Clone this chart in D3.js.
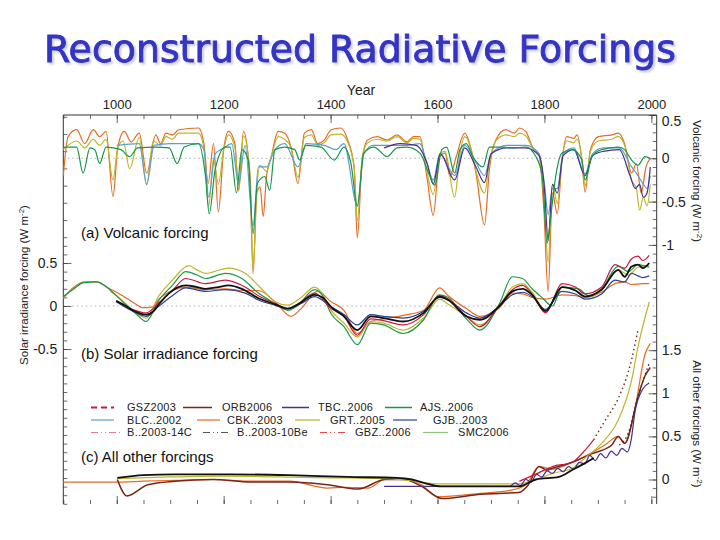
<!DOCTYPE html>
<html><head><meta charset="utf-8">
<script src="https://cdn.jsdelivr.net/npm/d3@7"></script>
<style>body{margin:0;background:#fff}svg{display:block}</style>
</head><body><svg id="c" width="720" height="540"></svg>
<script>
// ---------------- DATA ----------------
const titleText = "Reconstructed Radiative Forcings";
const topYears = [1000, 1200, 1400, 1600, 1800, 2000];
const minorYears = d3.range(900, 2011, 50);
const volcLabelVals = [0.5, 0, -0.5, -1];
const volcLabels = ["0.5", "0", "-0.5", "-1"];
const solarLabelVals = [0.5, 0, -0.5];
const solarLabels = ["0.5", "0", "-0.5"];
const otherLabelVals = [0, 0.5, 1, 1.5];
const otherLabels = ["0", "0.5", "1", "1.5"];
const legendNames = ["GSZ2003","ORB2006","TBC..2006","AJS..2006",
                     "BLC..2002","CBK..2003","GRT..2005","GJB..2003",
                     "B..2003-14C","B..2003-10Be","GBZ..2006","SMC2006"];

// (a) Volcanic forcing [year, W m-2]
const volcCBK = [[900,-0.2],[909,0.25],[925,0.33],[940,0.17],[956,0.33],[968,0.25],[980,0.31],[993,-0.44],[1002,0.13],[1014,0.31],[1027,0.19],[1042,0.29],[1056,-0.17],[1073,0.27],[1082,0.17],[1092,0.29],[1104,0.27],[1116,0.33],[1153,0.35],[1163,0.17],[1171,-0.29],[1181,0.17],[1190,-0.62],[1200,0.1],[1209,0.31],[1221,0.17],[1228,-0.37],[1237,0.31],[1249,-0.21],[1255,-1.33],[1262,-0.4],[1268,-0.33],[1274,-0.67],[1280,-0.21],[1289,0.02],[1302,0.31],[1314,0.29],[1326,0.13],[1339,-0.29],[1351,0.29],[1364,0.33],[1376,0.17],[1388,0.21],[1401,0.33],[1419,0.35],[1431,0.23],[1444,-0.1],[1450,-0.92],[1459,-0.02],[1469,0.21],[1487,0.25],[1506,0.21],[1524,0.27],[1543,0.19],[1555,0.25],[1567,0.25],[1580,-0.21],[1592,-0.66],[1604,0.02],[1614,0.06],[1623,-0.21],[1635,0.02],[1651,0.29],[1663,0.1],[1672,-0.17],[1688,-0.77],[1697,-0.13],[1709,0.21],[1728,0.33],[1744,0.29],[1753,0.35],[1765,0.31],[1778,0.13],[1790,0.04],[1799,-0.6],[1807,-1.54],[1815,-0.4],[1824,-0.64],[1833,-0.02],[1842,0.25],[1855,0.23],[1861,0.27],[1870,-0.02],[1876,-0.39],[1886,0.1],[1901,0.25],[1926,0.27],[1938,0.29],[1950,0.17],[1963,-0.17],[1972,-0.06],[1981,-0.4],[1990,-0.1],[1998,0.0]];
const volcGRT = [[900,0.1],[925,0.2],[940,0.12],[956,0.22],[968,0.15],[980,0.22],[993,-0.25],[1002,0.12],[1012,0.2],[1024,-0.12],[1042,0.24],[1056,-0.31],[1068,0.2],[1082,0.15],[1092,0.25],[1104,0.22],[1116,0.29],[1153,0.29],[1163,0.12],[1172,-0.55],[1181,0.0],[1190,-0.3],[1200,0.1],[1209,0.27],[1221,0.12],[1228,-0.38],[1237,0.26],[1249,-0.15],[1255,-1.28],[1262,-0.35],[1268,-0.08],[1280,-0.15],[1289,0.02],[1302,0.25],[1314,0.22],[1326,0.12],[1339,-0.22],[1351,0.24],[1364,0.27],[1376,0.15],[1388,0.18],[1401,0.27],[1419,0.28],[1431,0.2],[1444,-0.1],[1450,-0.72],[1459,0.0],[1469,0.18],[1487,0.22],[1506,0.2],[1524,0.25],[1543,0.18],[1555,0.23],[1567,0.22],[1580,-0.15],[1592,-0.42],[1604,0.05],[1614,0.08],[1632,-0.45],[1642,0.05],[1651,0.25],[1663,0.1],[1672,-0.15],[1688,-0.4],[1697,-0.05],[1709,0.2],[1728,0.27],[1744,0.25],[1753,0.29],[1765,0.26],[1778,0.12],[1790,0.05],[1799,-0.45],[1807,-1.2],[1815,-0.3],[1824,-0.52],[1833,0.0],[1842,0.2],[1855,0.18],[1861,0.22],[1870,0.0],[1876,-0.32],[1886,0.08],[1901,0.2],[1926,0.22],[1938,0.25],[1950,0.15],[1963,-0.25],[1972,-0.35],[1978,-0.6],[1985,-0.45],[1992,-0.55],[1998,-0.3]];
const volcBLC = [[1000,0.15],[1042,0.17],[1056,-0.3],[1070,0.15],[1100,0.17],[1153,0.17],[1163,0.1],[1172,-0.45],[1184,0.05],[1200,0.12],[1215,0.17],[1228,-0.3],[1240,0.15],[1255,-0.78],[1265,-0.1],[1280,-0.1],[1296,0.1],[1314,0.17],[1339,-0.1],[1354,0.17],[1388,0.15],[1410,0.1],[1425,0.17],[1450,-0.55],[1462,0.05],[1480,0.15],[1506,0.15],[1543,0.15],[1567,0.17],[1580,-0.05],[1592,-0.25],[1605,0.05],[1632,-0.2],[1651,0.15],[1672,-0.05],[1688,-0.2],[1700,0.05],[1730,0.15],[1765,0.15],[1790,0.05],[1800,-0.3],[1807,-0.65],[1815,-0.35],[1824,-0.35],[1835,0.05],[1855,0.12],[1876,-0.18],[1890,0.05],[1910,0.12],[1940,0.12],[1963,-0.1],[1975,-0.2],[1985,-0.3],[1992,-0.35],[1998,-0.2]];
const volcTBC = [[1500,0.12],[1530,0.17],[1560,0.15],[1580,-0.05],[1592,-0.3],[1605,0.05],[1632,-0.25],[1651,0.12],[1672,-0.1],[1688,-0.28],[1700,0.05],[1730,0.12],[1765,0.12],[1790,0.03],[1800,-0.35],[1807,-0.95],[1815,-0.3],[1824,-0.4],[1835,0.03],[1855,0.1],[1876,-0.2],[1890,0.03],[1910,0.08],[1940,0.1],[1960,-0.2],[1970,-0.35],[1978,-0.3],[1985,-0.45],[1992,-0.4],[1998,-0.1]];
const volcAJS = [[900,0.13],[925,0.13],[937,-0.17],[950,0.12],[959,0.1],[968,-0.06],[980,0.13],[1008,0.1],[1024,0.02],[1039,0.12],[1073,0.13],[1098,0.12],[1113,-0.06],[1126,0.13],[1153,0.17],[1166,-0.21],[1173,-0.64],[1184,-0.13],[1203,0.13],[1212,0.13],[1224,-0.4],[1234,0.1],[1246,-0.02],[1255,-0.87],[1263,-0.29],[1277,-0.21],[1286,-0.37],[1296,0.1],[1314,0.13],[1333,0.1],[1342,-0.02],[1354,0.15],[1382,0.13],[1407,-0.02],[1425,0.13],[1438,-0.06],[1450,-0.55],[1462,0.06],[1481,0.13],[1506,0.02],[1524,0.12],[1543,0.13],[1567,0.06],[1586,-0.21],[1595,-0.31],[1608,0.1],[1617,0.13],[1632,-0.17],[1642,0.1],[1654,0.17],[1666,0.02],[1685,-0.1],[1697,0.13],[1722,0.13],[1740,0.12],[1765,0.13],[1784,0.02],[1796,-0.21],[1805,-0.98],[1811,-0.71],[1821,-0.21],[1833,0.06],[1852,0.1],[1870,-0.02],[1876,-0.25],[1889,0.02],[1907,0.1],[1938,0.13],[1950,0.1],[1963,-0.02],[1975,-0.08],[1988,0.02],[1998,0.0]];

// (b) Solar irradiance forcing [year, W m-2]
const solCBK = [[900,0.09],[920,0.22],[940,0.28],[962,0.28],[987,0.2],[1011,0.12],[1036,0.02],[1048,-0.02],[1067,-0.01],[1079,0.08],[1104,0.18],[1129,0.22],[1166,0.19],[1203,0.2],[1234,0.18],[1265,0.18],[1296,0.05],[1326,-0.12],[1345,-0.03],[1376,0.17],[1401,0.05],[1425,-0.05],[1450,-0.32],[1475,-0.18],[1499,-0.15],[1536,-0.11],[1574,-0.05],[1604,0.21],[1620,0.12],[1654,-0.03],[1679,-0.12],[1716,-0.02],[1740,0.15],[1759,0.14],[1777,0.1],[1802,0.08],[1833,0.13],[1858,0.12],[1876,0.1],[1907,0.16],[1932,0.26],[1950,0.28],[1963,0.25],[1984,0.26],[1996,0.26]];
const solGRT = [[987,0.18],[1011,0.06],[1036,-0.08],[1055,-0.14],[1079,0.12],[1104,0.3],[1135,0.47],[1150,0.42],[1166,0.38],[1209,0.44],[1240,0.38],[1271,0.2],[1296,0.05],[1320,0.01],[1345,0.1],[1370,0.22],[1385,0.14],[1401,-0.05],[1425,-0.2],[1450,-0.36],[1475,-0.18],[1499,-0.2],[1536,-0.28],[1574,-0.14],[1604,0.08],[1620,0.02],[1654,-0.12],[1679,-0.22],[1716,0.0],[1740,0.22],[1759,0.26],[1777,0.16],[1802,-0.05],[1833,0.22],[1858,0.18],[1876,0.1],[1907,0.18],[1938,0.42],[1957,0.36],[1975,0.45],[1996,0.47]];
const solAJS = [[900,0.11],[920,0.2],[937,0.27],[962,0.28],[987,0.19],[1011,0.05],[1036,-0.09],[1055,-0.18],[1079,0.07],[1104,0.24],[1129,0.4],[1150,0.36],[1166,0.32],[1203,0.38],[1234,0.32],[1265,0.15],[1296,0.03],[1320,-0.05],[1339,0.01],[1370,0.19],[1385,0.12],[1401,-0.09],[1425,-0.24],[1450,-0.45],[1475,-0.2],[1499,-0.22],[1536,-0.32],[1574,-0.16],[1604,0.13],[1620,0.1],[1654,-0.15],[1679,-0.28],[1716,0.03],[1740,0.34],[1759,0.32],[1777,0.2],[1795,0.1],[1815,0.0],[1833,0.22],[1864,0.2],[1882,0.12],[1907,0.2],[1938,0.46],[1957,0.4],[1975,0.48],[1996,0.45]];
const solGJB = [[999,0.05],[1030,-0.06],[1055,-0.12],[1079,0.0],[1104,0.12],[1129,0.21],[1166,0.17],[1203,0.19],[1240,0.15],[1265,0.07],[1296,0.01],[1320,-0.03],[1345,0.03],[1370,0.11],[1401,-0.01],[1425,-0.1],[1450,-0.22],[1475,-0.1],[1499,-0.12],[1536,-0.14],[1574,-0.06],[1604,0.1],[1620,0.07],[1654,-0.08],[1679,-0.14],[1716,0.0],[1740,0.13],[1759,0.16],[1777,0.11],[1802,-0.04],[1833,0.17],[1858,0.14],[1876,0.08],[1907,0.14],[1932,0.3],[1950,0.28],[1963,0.38],[1975,0.35],[1984,0.33],[1996,0.35]];
const solGSZ = [[999,0.06],[1030,-0.04],[1055,-0.08],[1079,0.04],[1104,0.18],[1129,0.32],[1166,0.26],[1203,0.3],[1240,0.22],[1265,0.12],[1296,0.03],[1320,-0.03],[1345,0.05],[1370,0.15],[1401,-0.03],[1425,-0.12],[1450,-0.34],[1475,-0.15],[1499,-0.17],[1536,-0.22],[1574,-0.1],[1604,0.12],[1620,0.08],[1654,-0.12],[1679,-0.24],[1716,0.01],[1740,0.19],[1759,0.24],[1777,0.14],[1802,-0.08],[1833,0.26],[1858,0.22],[1876,0.14],[1907,0.22],[1932,0.48],[1950,0.44],[1963,0.55],[1975,0.58],[1984,0.53],[1996,0.59]];
const solB10 = [[999,0.06],[1011,0.02],[1030,-0.05],[1055,-0.1],[1067,-0.07],[1079,0.02],[1098,0.15],[1129,0.24],[1150,0.22],[1166,0.2],[1190,0.22],[1209,0.24],[1234,0.2],[1265,0.09],[1296,0.02],[1320,-0.03],[1339,0.02],[1370,0.13],[1385,0.1],[1401,-0.01],[1425,-0.12],[1450,-0.28],[1475,-0.12],[1499,-0.14],[1536,-0.18],[1574,-0.08],[1604,0.11],[1620,0.07],[1654,-0.12],[1679,-0.16],[1716,0.0],[1740,0.17],[1759,0.2],[1777,0.13],[1802,-0.06],[1833,0.22],[1858,0.18],[1876,0.11],[1907,0.19],[1938,0.42],[1950,0.34],[1963,0.46],[1975,0.48],[1984,0.44],[1996,0.5]];

// (c) All other forcings [year, W m-2]
const othCBK = [[900,-0.03],[1001,-0.03],[1050,-0.02],[1108,-0.01],[1180,0.0],[1252,-0.02],[1323,-0.02],[1394,-0.1],[1430,-0.09],[1470,-0.1],[1502,0.0],[1538,0.0],[1570,-0.06],[1600,-0.2],[1681,-0.16],[1740,-0.12],[1765,-0.06],[1790,0.15],[1815,0.12],[1845,0.18],[1876,0.27],[1913,0.4],[1938,0.5],[1950,0.42],[1969,0.81],[1988,1.45],[1998,1.58]];
const othORB = [[1001,0.0],[1019,-0.19],[1058,-0.06],[1108,-0.02],[1180,0.0],[1252,-0.03],[1323,-0.03],[1394,-0.06],[1452,-0.11],[1502,0.0],[1538,0.0],[1570,-0.08],[1609,-0.22],[1681,-0.17],[1752,-0.15],[1770,-0.06],[1790,0.15],[1805,0.11],[1815,0.13],[1852,0.2],[1889,0.3],[1926,0.4],[1938,0.5],[1950,0.42],[1975,0.96],[1988,1.2],[1998,1.3]];
const othGRT = [[1001,0.01],[1100,0.03],[1200,0.04],[1300,0.03],[1400,0.02],[1500,0.01],[1560,-0.02],[1598,-0.05],[1753,-0.05],[1784,0.0],[1815,0.07],[1852,0.13],[1876,0.25],[1907,0.42],[1938,0.69],[1963,1.15],[1975,1.54],[1996,2.06]];
const othTBC = [[1500,-0.08],[1735,-0.08],[1745,-0.04],[1755,-0.07],[1765,0.0],[1775,-0.03],[1785,0.06],[1795,0.03],[1805,0.1],[1815,0.07],[1825,0.13],[1835,0.09],[1845,0.15],[1855,0.12],[1865,0.2],[1875,0.18],[1885,0.28],[1895,0.22],[1905,0.3],[1915,0.25],[1925,0.33],[1935,0.28],[1945,0.36],[1955,0.32],[1962,0.45],[1969,0.77],[1984,1.05],[1996,1.12]];
const othB10 = [[1001,0.02],[1050,0.05],[1108,0.06],[1216,0.06],[1323,0.05],[1431,0.03],[1524,0.02],[1552,0.0],[1581,-0.05],[1605,-0.08],[1700,-0.08],[1753,-0.08],[1784,0.0],[1827,0.03],[1852,0.11],[1876,0.19],[1892,0.25]];
const othGSZ = [[1753,-0.02],[1790,0.08],[1815,0.15],[1852,0.2],[1876,0.34],[1892,0.46]];
const othGSZdot = [[1892,0.46],[1913,0.68],[1938,0.94],[1963,1.39],[1975,1.74]];
const othGBZdot = [[1940,0.4],[1957,0.54],[1975,0.96],[1996,1.35]];

// ---------------- LAYOUT ----------------
const svg = d3.select("#c");
const FONT = "'Liberation Sans', Arial, Helvetica, sans-serif";
const L = 63.3, R = 656.7, T = 115, B = 504;
const x = d3.scaleLinear().domain([900, 2010]).range([L, R]);
const yV = d3.scaleLinear().domain([0, 0.5]).range([158.3, 115]);
const yS = d3.scaleLinear().domain([0, 0.5]).range([306, 263]);
const yO = d3.scaleLinear().domain([0, 1]).range([479.5, 393.3]);
const C = {orange:"#e46c24", green:"#17974a", olive:"#bdb52a", blue:"#5c9fcf", navy:"#2a3f8f",
           purple:"#4b2d8f", black:"#111111", red:"#c81a3c", maroon:"#7b2418", pink:"#d97aa0",
           gray:"#555555", gbz:"#e6484f", lgreen:"#8dc67a"};

// Title with a soft drop shadow
const defs = svg.append("defs");
const f = defs.append("filter").attr("id","sh").attr("x","-5%").attr("y","-20%").attr("width","110%").attr("height","150%");
f.append("feDropShadow").attr("dx",2).attr("dy",2).attr("stdDeviation",1)
  .attr("flood-color","#9090a8").attr("flood-opacity",0.45);
svg.append("text").attr("x", 360).attr("y", 62).attr("text-anchor","middle")
  .attr("font-family","'DejaVu Sans', sans-serif").attr("font-size",37.5)
  .attr("textLength",632).attr("lengthAdjust","spacingAndGlyphs")
  .attr("fill","#3434c4").attr("stroke","#3434c4").attr("stroke-width",0.9)
  .attr("filter","url(#sh)").text(titleText);

// zero lines
[yV(0), yS(0)].forEach(yy=>{
  svg.append("line").attr("x1",L).attr("x2",R).attr("y1",yy).attr("y2",yy)
    .attr("stroke","#9a9a9a").attr("stroke-width",0.8).attr("stroke-dasharray","1.5,3");
});

function styleAxis(g, size){
  g.select(".domain").remove();
  g.selectAll("line").attr("stroke","#444").attr("stroke-width",0.8);
  g.selectAll("text").attr("font-family",FONT).attr("font-size",size).attr("fill","#222");
}
// top axis
svg.append("g").attr("transform",`translate(0,${T})`)
  .call(d3.axisTop(x).tickValues(minorYears).tickSize(-4).tickFormat(""))
  .call(g=>styleAxis(g,13));
svg.append("g").attr("transform",`translate(0,${T})`)
  .call(d3.axisTop(x).tickValues(topYears).tickSize(-8).tickPadding(6).tickFormat(d3.format("d")))
  .call(g=>styleAxis(g,13));
svg.append("text").attr("x",361).attr("y",95).attr("text-anchor","middle")
  .attr("font-family",FONT).attr("font-size",14).attr("fill","#222").text("Year");
// bottom axis (ticks only)
svg.append("g").attr("transform",`translate(0,${B})`)
  .call(d3.axisBottom(x).tickValues(minorYears).tickSize(-4).tickFormat(""))
  .call(g=>styleAxis(g,13));
svg.append("g").attr("transform",`translate(0,${B})`)
  .call(d3.axisBottom(x).tickValues(topYears).tickSize(-8).tickFormat(""))
  .call(g=>styleAxis(g,13));

// left axis (solar)
const leftMinor = d3.range(-23, 23).map(i=>i/10).filter(v=>{
  const yy=yS(v); return yy>=T && yy<=B && (v<=0.8 || Math.round(v*10)%2===0);});
svg.append("g").attr("transform",`translate(${L},0)`)
  .call(d3.axisLeft(yS).tickValues(leftMinor).tickSize(-4).tickFormat(""))
  .call(g=>styleAxis(g,14));
svg.append("g").attr("transform",`translate(${L},0)`)
  .call(d3.axisLeft(yS).tickValues(solarLabelVals).tickSize(-8).tickPadding(6)
        .tickFormat((d,i)=>solarLabels[i]))
  .call(g=>styleAxis(g,14));

// right axis (volcanic + other)
const volcMinor = d3.range(-16, 6).map(i=>i/10);
svg.append("g").attr("transform",`translate(${R},0)`)
  .call(d3.axisRight(yV).tickValues(volcMinor).tickSize(-4).tickFormat(""))
  .call(g=>styleAxis(g,14));
svg.append("g").attr("transform",`translate(${R},0)`)
  .call(d3.axisRight(yV).tickValues(volcLabelVals).tickSize(-8).tickPadding(5)
        .tickFormat((d,i)=>volcLabels[i]))
  .call(g=>styleAxis(g,14))
  .call(g=>g.selectAll(".tick").filter(d=>d===0.5).select("text").attr("dy","0.75em"));
const othMinor = d3.range(-2, 20).map(i=>i/10);
svg.append("g").attr("transform",`translate(${R},0)`)
  .call(d3.axisRight(yO).tickValues(othMinor).tickSize(-4).tickFormat(""))
  .call(g=>styleAxis(g,14));
svg.append("g").attr("transform",`translate(${R},0)`)
  .call(d3.axisRight(yO).tickValues(otherLabelVals).tickSize(-8).tickPadding(5)
        .tickFormat((d,i)=>otherLabels[i]))
  .call(g=>styleAxis(g,14));

// frame (bottom edge cropped in the original)
svg.append("path").attr("d",`M${L},${B}V${T}H${R}V${B}`).attr("fill","none")
  .attr("stroke","#333").attr("stroke-width",1);

// axis titles
function unitLabel(g, txt){
  const t = g.append("text").attr("text-anchor","middle").attr("font-family",FONT)
    .attr("font-size",11.5).attr("fill","#222");
  t.append("tspan").text(txt + "  (W m");
  t.append("tspan").attr("dy",-4).attr("font-size",8).text("-2");
  t.append("tspan").attr("dy",4).text(")");
}
unitLabel(svg.append("g").attr("transform","translate(693,181) rotate(90)"), "Volcanic forcing");
unitLabel(svg.append("g").attr("transform","translate(693,424) rotate(90)"), "All other forcings");
unitLabel(svg.append("g").attr("transform","translate(28,285) rotate(-90)"), "Solar irradiance forcing");

// panel labels
[["(a) Volcanic forcing",237.5],["(b) Solar irradiance forcing",358.5],["(c) All other forcings",462]]
.forEach(([t,yy])=>svg.append("text").attr("x",81).attr("y",yy).attr("font-family",FONT)
   .attr("font-size",15).attr("fill","#111").text(t));

// lines
function draw(data, ys, color, w, dash){
  const line = d3.line().x(d=>x(d[0])).y(d=>ys(d[1])).curve(d3.curveMonotoneX);
  svg.append("path").datum(data).attr("d",line).attr("fill","none")
    .attr("stroke",color).attr("stroke-width",w||1.2)
    .attr("stroke-dasharray",dash||null).attr("stroke-linejoin","round");
}
// (a)
draw(volcCBK, yV, C.orange);
draw(volcGRT, yV, C.olive);
draw(volcBLC, yV, C.blue);
draw(volcTBC, yV, C.purple);
draw(volcAJS, yV, C.green);
// (b)
draw(solCBK, yS, C.orange);
draw(solGRT, yS, C.olive);
draw(solAJS, yS, C.green);
draw(solGJB, yS, C.navy);
draw(solGSZ, yS, C.red);
draw(solB10, yS, C.black, 1.8);
// (c)
draw(othCBK, yO, C.orange);
draw(othORB, yO, C.maroon, 1.5);
draw(othGRT, yO, C.olive);
draw(othTBC, yO, C.purple);
draw(othB10, yO, C.black, 1.8);
draw(othGSZ, yO, C.red);
draw(othGSZdot, yO, C.maroon, 1.4, "1.5,3");
draw(othGBZdot, yO, "#333", 1.4, "1.5,3");

// legend
const legendStyle = [
  [C.red,2,"6,4"],[C.maroon,1.5,null],[C.purple,1.5,null],[C.green,1.5,null],
  [C.blue,1.2,null],[C.orange,1.2,null],[C.olive,1.2,null],[C.navy,1.2,null],
  [C.pink,1.2,"7,3,1,3,1,3"],[C.gray,1.2,"7,3,1,3,1,3"],[C.gbz,1.2,"7,3,1,3,1,3"],[C.lgreen,1.2,null]];
const legendPos = [ // [lineX1, lineX2, textX, rowY]
  [91,114,127,407.5],[183,212,222,407.5],[282,309,318,407.5],[385,412,420,407.5],
  [91,114,127,420],[197,220,227,420],[295,320,330,420],[393,417,433,420],
  [91,120,127,432.5],[203,230,237,432.5],[320,347,355,432.5],[423,448,458,432.5]];
legendNames.forEach((name,i)=>{
  const [x1,x2,tx,ry] = legendPos[i];
  const [col,w,dash] = legendStyle[i];
  svg.append("line").attr("x1",x1).attr("x2",x2).attr("y1",ry).attr("y2",ry)
    .attr("stroke",col).attr("stroke-width",w).attr("stroke-dasharray",dash);
  svg.append("text").attr("x",tx).attr("y",ry).attr("dy","0.36em").attr("font-family",FONT)
    .attr("font-size",11).attr("letter-spacing",0.3).attr("fill","#222").text(name);
});
</script></body></html>
